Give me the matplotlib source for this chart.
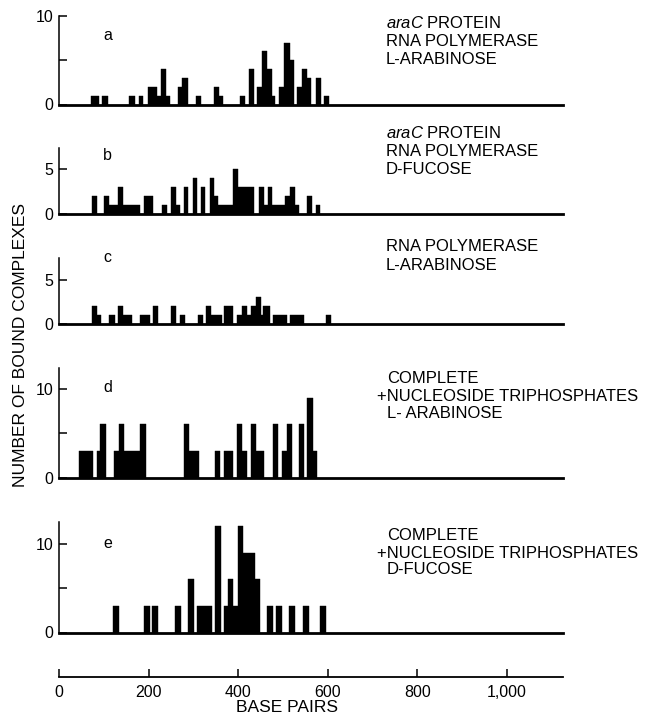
import matplotlib
matplotlib.use("Agg")
import matplotlib.pyplot as plt

plt.rcParams['font.family'] = ['Liberation Sans', 'DejaVu Sans']
plt.rcParams['mathtext.fontset'] = 'custom'
plt.rcParams['mathtext.rm'] = 'Liberation Sans'
plt.rcParams['mathtext.it'] = 'Liberation Sans:italic'

# ---- data (base pairs, number of bound complexes) ----
a_start = [71, 97, 157, 178, 198, 218, 227, 238, 265, 275, 305, 345, 357, 404, 423, 443, 453, 464, 475, 492, 503, 515, 532, 542, 553, 573, 591]
a_end   = [90, 110, 169, 188, 218, 227, 238, 248, 275, 287, 317, 357, 366, 415, 435, 453, 464, 475, 483, 503, 515, 524, 542, 553, 563, 584, 602]
a_count = [1, 1, 1, 1, 2, 1, 4, 1, 2, 3, 1, 2, 1, 1, 4, 2, 6, 4, 1, 2, 7, 5, 2, 4, 3, 3, 1]

b_start = [73, 101, 111, 131, 143, 190, 231, 251, 261, 279, 298, 317, 336, 347, 356, 388, 400, 447, 457, 466, 476, 505, 515, 526, 554, 573]
b_end   = [84, 111, 131, 143, 180, 210, 241, 261, 269, 289, 308, 327, 347, 356, 388, 400, 436, 457, 466, 476, 505, 515, 526, 536, 565, 583]
b_count = [2, 2, 1, 3, 1, 2, 1, 3, 1, 3, 4, 3, 4, 2, 1, 5, 3, 3, 1, 3, 1, 2, 3, 1, 2, 1]

c_start = [73, 84, 111, 131, 143, 180, 210, 250, 269, 310, 328, 340, 368, 398, 408, 419, 429, 439, 451, 456, 477, 516, 596]
c_end   = [84, 94, 124, 143, 163, 203, 221, 262, 281, 321, 340, 364, 389, 408, 419, 429, 439, 451, 456, 470, 509, 547, 607]
c_count = [2, 1, 1, 2, 1, 1, 2, 2, 1, 1, 2, 1, 2, 1, 2, 1, 2, 3, 1, 2, 1, 1, 1]

d_start = [45, 84, 92, 122, 133, 145, 181, 279, 291, 348, 369, 398, 409, 428, 439, 477, 498, 509, 536, 554, 566]
d_end   = [75, 92, 104, 133, 145, 181, 194, 291, 312, 359, 389, 409, 419, 439, 458, 489, 509, 519, 547, 566, 577]
d_count = [3, 3, 6, 3, 6, 3, 6, 6, 3, 3, 3, 6, 3, 6, 3, 6, 3, 6, 6, 9, 3]

e_start = [121, 190, 208, 259, 289, 307, 348, 368, 378, 389, 399, 411, 437, 465, 484, 514, 544, 582]
e_end   = [134, 203, 221, 272, 301, 341, 361, 378, 389, 399, 411, 437, 449, 478, 498, 527, 558, 595]
e_count = [3, 3, 3, 3, 6, 3, 12, 3, 6, 3, 12, 9, 6, 3, 3, 3, 3, 3]

panel_letters = ['a', 'b', 'c', 'd', 'e']
panel_texts = [
    [r'$\it{araC}$ PROTEIN', 'RNA POLYMERASE', 'L-ARABINOSE'],
    [r'$\it{araC}$ PROTEIN', 'RNA POLYMERASE', 'D-FUCOSE'],
    ['RNA POLYMERASE', 'L-ARABINOSE'],
    ['COMPLETE', '+NUCLEOSIDE TRIPHOSPHATES', 'L- ARABINOSE'],
    ['COMPLETE', '+NUCLEOSIDE TRIPHOSPHATES', 'D-FUCOSE'],
]
yticks = [[0, 5, 10], [0, 5], [0, 5], [0, 5, 10], [0, 5, 10]]
yticklabels = [['0', '', '10'], ['0', '5'], ['0', '5'], ['0', '', '10'], ['0', '', '10']]
ytops = [10, 7.4, 7.5, 12.4, 12.5]
xticks = [0, 200, 400, 600, 800, 1000]
xticklabels = ['0', '200', '400', '600', '800', '1,000']
XMAX = 1125

# ---- layout (pixels) ----
W, H = 649, 717
fig = plt.figure(figsize=(W / 100, H / 100), dpi=100)
fig.patch.set_facecolor('white')

UNIT = 8.85
zeros = [104.5, 213.5, 324, 477.5, 632.5]
LEFT, RIGHT = 59, 563
FS = 11.5
FS_TXT = 12

def fx(x):
    return x / W

def fy(y):
    return 1 - y / H

series = [(a_start, a_end, a_count), (b_start, b_end, b_count), (c_start, c_end, c_count),
          (d_start, d_end, d_count), (e_start, e_end, e_count)]

text_rows = [[23, 41, 60], [133, 152, 170], [247, 265], [378, 397, 414], [535, 553, 570]]
letter_y = [35, 155, 258, 387, 543]

for i, (st, en, ct) in enumerate(series):
    z = zeros[i]
    h = ytops[i] * UNIT
    ax = fig.add_axes([fx(LEFT), fy(z), (RIGHT - LEFT) / W, h / H])
    widths = [e - s for s, e in zip(st, en)]
    ax.bar(st, ct, width=widths, align='edge', color='black', edgecolor='black', linewidth=0.3)
    ax.set_xlim(0, XMAX)
    ax.set_ylim(0, ytops[i])
    for s in ['top', 'right']:
        ax.spines[s].set_visible(False)
    ax.spines['bottom'].set_linewidth(2.0)
    ax.spines['left'].set_linewidth(1.1)
    ax.set_xticks([])
    ax.set_yticks(yticks[i])
    ax.set_yticklabels(yticklabels[i])
    ax.tick_params(axis='y', direction='in', length=6, width=1.1, pad=4, labelsize=FS)
    ax.patch.set_alpha(0)
    fig.text(fx(103), fy(letter_y[i]), panel_letters[i], fontsize=FS, ha='left', va='center')
    lines = panel_texts[i]
    for j, line in enumerate(lines):
        xpos = 386
        if i >= 3:
            xpos = 377 if line.startswith('+') else 387
        fig.text(fx(xpos), fy(text_rows[i][j]), line, fontsize=FS_TXT, ha='left', va='center')

# x axis
axx = fig.add_axes([fx(LEFT), fy(677), (RIGHT - LEFT) / W, 0.001])
axx.set_xlim(0, XMAX)
axx.set_ylim(0, 1)
for s in ['top', 'right', 'left']:
    axx.spines[s].set_visible(False)
axx.spines['bottom'].set_linewidth(1.3)
axx.set_yticks([])
axx.set_xticks(xticks)
axx.set_xticklabels(xticklabels)
axx.tick_params(axis='x', direction='in', length=6, width=1.1, pad=6, labelsize=FS)
axx.patch.set_alpha(0)

fig.text(fx(287), fy(707), 'BASE PAIRS', fontsize=12.5, ha='center', va='center')
fig.text(fx(21), fy(345), 'NUMBER OF BOUND COMPLEXES', fontsize=12.5, rotation=90,
         ha='center', va='center')

fig.savefig('out.png', dpi=100, facecolor='white')
